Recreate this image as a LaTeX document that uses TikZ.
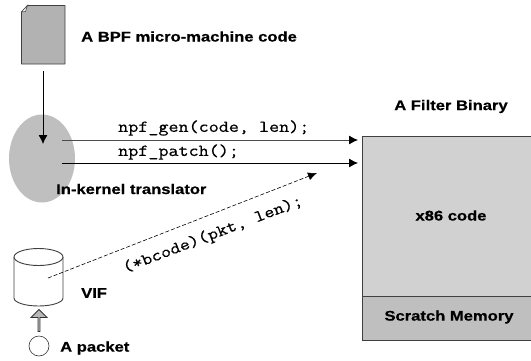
\documentclass[tikz,border=0pt]{standalone}
\usepackage{fontspec}
\setmainfont{Liberation Sans}
\newfontfamily\codef[FakeStretch=1.17,FakeBold=0.5]{Latin Modern Mono}
\newfontfamily\heavyf[FakeStretch=1.185,FakeBold=0.6]{Liberation Sans Bold}
\usetikzlibrary{arrows.meta,shapes.geometric,shapes.arrows}
\definecolor{docgray}{gray}{0.70}
\definecolor{ellgray}{gray}{0.75}
\definecolor{codegray}{gray}{0.82}
\definecolor{memgray}{gray}{0.75}
\tikzset{
  x=1pt,y=-1pt,
  lbl/.style={font=\heavyf\fontsize{14}{16}\selectfont,inner sep=0pt,anchor=west,text=black},
  cod/.style={font=\codef\fontsize{16.7}{18}\selectfont,inner sep=0pt,text=black},
  tip/.style={-{Latex[length=9pt,width=9pt,black]},line width=0.8pt},
  box/.style={draw=black!75,line width=0.9pt},
}
\begin{document}
\begin{tikzpicture}
\useasboundingbox (0,0) rectangle (531,360);
% document
\draw[box,fill=docgray,line join=round] (27.5,5.5) -- (65,5.5) -- (65,64) -- (21.5,64) -- (21.5,12) -- cycle;
\draw[black!75,line width=0.5pt,fill=white] (27.5,5.5) -- (25.5,11.5) -- (21.5,12) -- cycle;
\node[lbl] (bpf) at (81,36.5) {A BPF micro-machine code};
\coordinate (docout) at (43,71);
\coordinate (ellin) at (43,144);
% ellipse
\node[ellipse,fill=ellgray,minimum width=66pt,minimum height=88pt,inner sep=0pt] (trans) at (42,158.5) {};
\draw[tip] (docout) -- (ellin);
\node[lbl] (tl) at (56,189) {In-kernel translator};
% calls
\coordinate (g0) at (62,140);
\coordinate (g1) at (358,140);
\coordinate (p0) at (62,163);
\coordinate (p1) at (358,163);
\draw[tip,draw=black!70] (g0) -- (g1);
\draw[tip] (p0) -- (p1);
\node[cod,anchor=west] (gen) at (118,128) {npf\_gen(code, len);};
\node[cod,anchor=west] (patch) at (118,152) {npf\_patch();};
% binary
\node[lbl,anchor=center] (fb) at (451,106.5) {A Filter Binary};
\path[box,fill=codegray] (362,136.5) rectangle (533,296.5);
\path[box,fill=memgray] (362,296.5) rectangle (533,340);
\node[lbl,anchor=center] (x86) at (451,215.5) {x86 code};
\node[lbl,anchor=center] (sm) at (449,317) {Scratch Memory};
% VIF
\draw[box,fill=white] (14,257) -- (14,298) arc[start angle=180,end angle=360,x radius=24.5,y radius=-8] -- (63,257);
\draw[box,fill=white] (38.5,257) ellipse[x radius=24.5,y radius=8.5];
\coordinate (v0) at (48,278);
\coordinate (v1) at (317,173);
\draw[-{Latex[length=9pt,width=8pt]},line width=0.6pt,dash pattern=on 4pt off 2pt] (v0) -- (v1);
\node[cod,anchor=center,rotate=21] (call) at (213,235) {(*bcode)(pkt, len);};
\node[lbl] (vif) at (81,293) {VIF};
% packet
\node[single arrow,draw=black!80,fill=black!28,line width=0.8pt,shape border rotate=90,minimum height=22pt,minimum width=16pt,single arrow head extend=3pt,single arrow tip angle=90,inner sep=0pt] (up) at (39,321) {};
\node[circle,draw=black!80,line width=0.6pt,minimum size=20pt,inner sep=0pt] (pkt) at (39,346) {};
\node[lbl] (apk) at (60,348) {A packet};
\end{tikzpicture}
\end{document}
